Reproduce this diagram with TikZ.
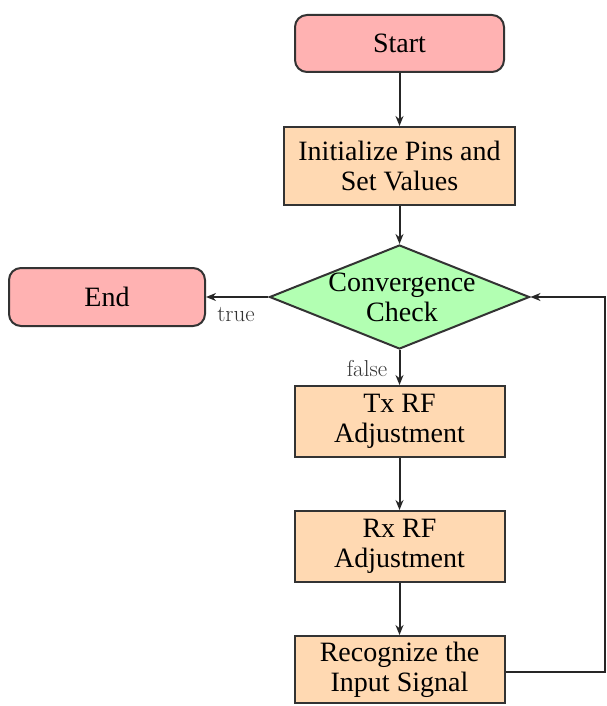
\documentclass[tikz,border=0pt]{standalone}
\usepackage{fontspec}
\newfontfamily\boxfont{Liberation Serif}
\usetikzlibrary{shapes.geometric,arrows.meta}
\tikzset{
  base/.style={draw=black!80, line width=2pt, align=center, inner sep=0pt,
    font=\boxfont\fontsize{28}{30}\selectfont, text=black},
  term/.style={base, rounded corners=12pt, fill=red!30},
  proc/.style={base, fill=orange!30},
  dec/.style={draw=black!80, line width=2pt, shape=diamond, fill=green!30, inner sep=0pt, aspect=2.5},
  conn/.style={draw=black!85, line width=2pt, -{Stealth[length=10pt,width=8pt]}},
  lbl/.style={font=\fontsize{23}{24}\selectfont, text=black!80, inner sep=0pt}
}
\begin{document}
\begin{tikzpicture}[x=1pt,y=1pt]
\useasboundingbox (0,0) rectangle (606,-706);
\node[term, minimum width=209pt, minimum height=57pt] (start) at (399.5,-43.5) {Start};
\node[proc, minimum width=231pt, minimum height=78pt] (init) at (399.5,-166) {Initialize Pins and\\Set Values};
\node[dec, minimum width=260pt, minimum height=104pt] (check) at (399.5,-297) {};
\node[base, draw=none, fill=none] (checktext) at (402,-297) {Convergence\\Check};
\node[term, minimum width=196pt, minimum height=58pt] (end) at (107,-297) {End};
\node[proc, minimum width=210pt, minimum height=71pt] (tx) at (399.5,-421.5) {Tx RF\\ Adjustment};
\node[proc, minimum width=210pt, minimum height=71pt] (rx) at (399.5,-546.5) {Rx RF\\ Adjustment};
\node[proc, minimum width=210pt, minimum height=67pt] (rec) at (399.5,-669.5) {Recognize the\\Input Signal};
\coordinate (c1) at (604.5,-672);
\coordinate (c2) at (604.5,-297);
\draw[conn] (start) -- (init);
\draw[conn] (init) -- (check);
\draw[conn] (check) -- (end);
\draw[conn] (check) -- (tx);
\draw[conn] (tx) -- (rx);
\draw[conn] (rx) -- (rec);
\draw[conn] (rec.east |- c1) -- (c1) -- (c2) -- (check.east);
\node[lbl] (truelbl) at (236,-315) {true};
\node[lbl] (falselbl) at (367,-369) {false};
\end{tikzpicture}
\end{document}
